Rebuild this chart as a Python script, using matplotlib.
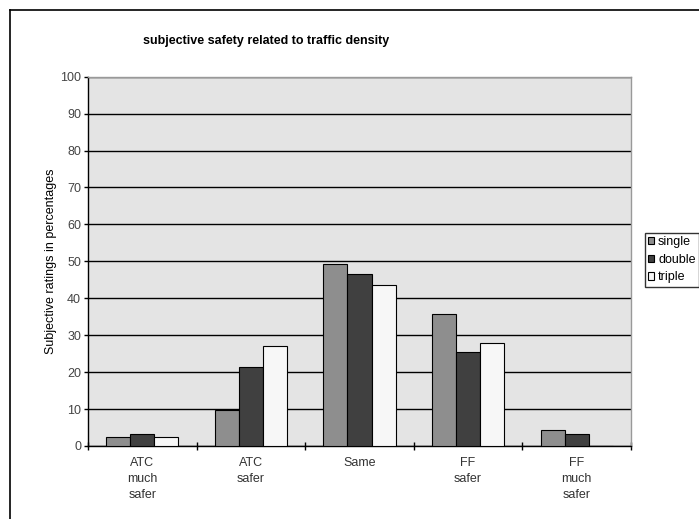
import matplotlib as mpl
mpl.use('Agg')
import matplotlib.pyplot as plt
from matplotlib.lines import Line2D
import numpy as np

plt.rcParams['font.family'] = ['Liberation Sans', 'DejaVu Sans']

categories = ['ATC\nmuch\nsafer', 'ATC\nsafer', 'Same', 'FF\nsafer', 'FF\nmuch\nsafer']
single = [2.4, 9.8, 49.4, 35.7, 4.3]
double = [3.3, 21.4, 46.7, 25.4, 3.3]
triple = [2.4, 27.0, 43.6, 28.0, 0.0]
series_names = ['single', 'double', 'triple']
colors = ['#8e8e8e', '#404040', '#f7f7f7']

fig = plt.figure(figsize=(6.99, 5.19), dpi=100)
ax = fig.add_axes([88/699, 1-446/519, 543/699, 369.3/519])
ax.set_facecolor('#e4e4e4')

x = np.arange(len(categories))
w = 0.222
for i, (vals, c, name) in enumerate(zip([single, double, triple], colors, series_names)):
    ax.bar(x + (i-1)*w, vals, w, color=c, edgecolor='black', linewidth=0.8, label=name, zorder=3)

ax.set_xlim(-0.5, 4.5)
ax.set_ylim(0, 100)
ax.set_yticks(range(0, 101, 10))
ax.yaxis.grid(True, color='black', linewidth=1.0, zorder=1)
ax.set_axisbelow(True)

ax.set_xticks(x)
ax.set_xticklabels(categories, fontsize=9, linespacing=1.45, color='#333333')
ax.set_xticks(np.arange(-0.5, 5, 1), minor=True)
ax.tick_params(axis='x', which='major', length=0, pad=8)
ax.tick_params(axis='x', which='minor', direction='inout', length=6, width=1)
ax.tick_params(axis='y', direction='out', length=3, width=1, labelsize=9, labelcolor='#444444', pad=2)

for s in ['left', 'bottom']:
    ax.spines[s].set_color('black')
    ax.spines[s].set_linewidth(1.0)
for s in ['top', 'right']:
    ax.spines[s].set_color('#999999')
    ax.spines[s].set_linewidth(1.0)

ax.set_ylabel('Subjective ratings in percentages', fontsize=9)
ax.yaxis.set_label_coords(-0.058, 0.5)

fig.text(266/699, 1-41/519, 'subjective safety related to traffic density',
         ha='center', va='center', fontsize=9, fontweight='bold')

fig.legend(loc='upper left', bbox_to_anchor=(645/699, 1-233/519), fontsize=9,
           frameon=True, fancybox=False, edgecolor='black', handlelength=0.5,
           handleheight=0.5, handletextpad=0.3, borderpad=0.25, labelspacing=0.45,
           borderaxespad=0)

# chart border (only top and left visible in the crop)
fig.add_artist(Line2D([10/699, 10/699], [0, 1-10/519], color='black', linewidth=1.2, transform=fig.transFigure))
fig.add_artist(Line2D([10/699, 1], [1-10/519, 1-10/519], color='black', linewidth=1.2, transform=fig.transFigure))

fig.savefig('out.png', dpi=100)
